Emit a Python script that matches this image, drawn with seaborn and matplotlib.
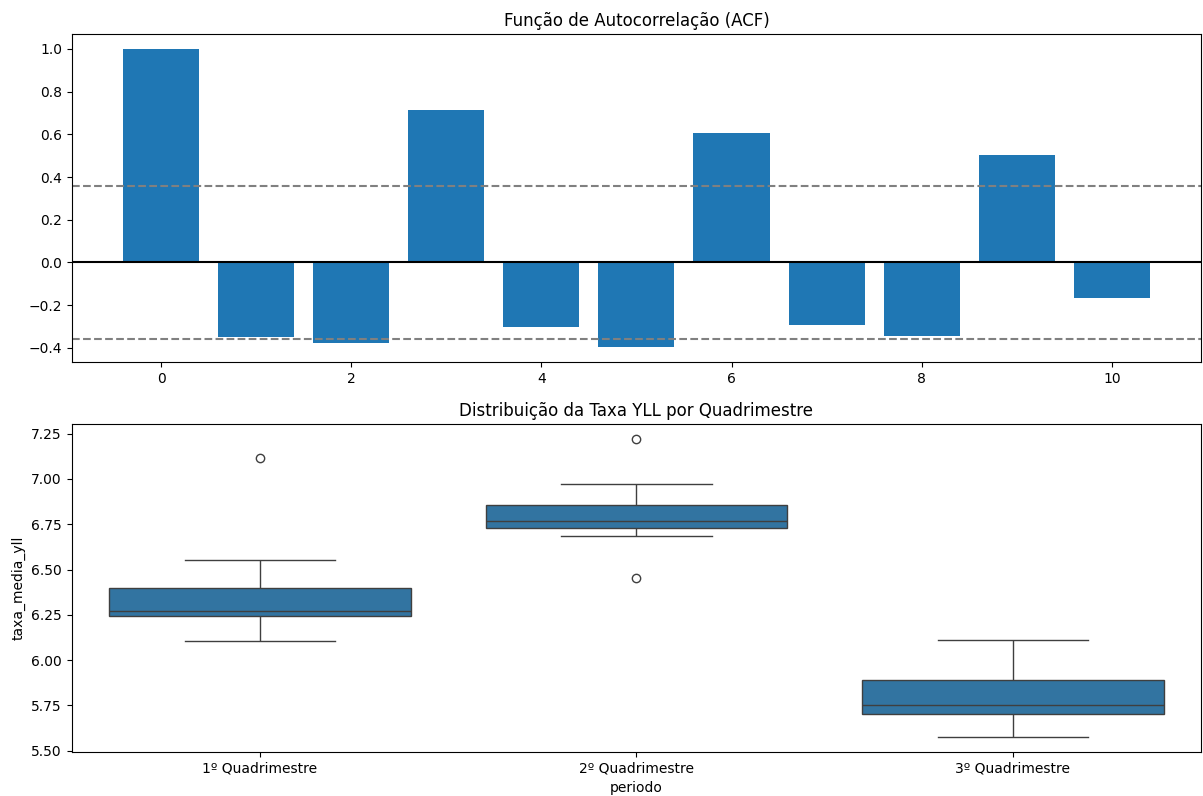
import numpy as np
import pandas as pd
import matplotlib
matplotlib.use("Agg")
import matplotlib.pyplot as plt
import seaborn as sns

# ACF data
lags = [0, 1, 2, 3, 4, 5, 6, 7, 8, 9, 10]
acf_values = [1.0, -0.349, -0.378, 0.713, -0.301, -0.396, 0.604, -0.291, -0.343, 0.502, -0.167]
conf_bound = 0.357

# Boxplot data (reconstructed to match quartiles/whiskers/outliers)
periodos = ["1º Quadrimestre", "2º Quadrimestre", "3º Quadrimestre"]
q1_vals = [6.106, 6.18, 6.235, 6.26, 6.265, 6.28, 6.33, 6.42, 6.55, 7.117]
q2_vals = [6.452, 6.686, 6.72, 6.756, 6.76, 6.77, 6.83, 6.866, 6.972, 7.221]
q3_vals = [5.575, 5.64, 5.70, 5.716, 5.74, 5.76, 5.85, 5.903, 6.0, 6.111]

df_acf = pd.DataFrame({"lag": lags, "acf": acf_values})
df_box = pd.DataFrame({
    "periodo": [periodos[0]] * len(q1_vals) + [periodos[1]] * len(q2_vals) + [periodos[2]] * len(q3_vals),
    "taxa_media_yll": q1_vals + q2_vals + q3_vals,
})

fig, (ax1, ax2) = plt.subplots(2, 1, figsize=(12.03, 7.96), dpi=100)
fig.subplots_adjust(left=0.0596, right=0.9985, top=0.9573, bottom=0.0553, hspace=0.189)

sns.barplot(data=df_acf, x="lag", y="acf", native_scale=True, color="#1f77b4",
            saturation=1, width=0.8, ax=ax1)
ax1.axhline(0, color="black", linewidth=1.5)
ax1.axhline(conf_bound, color="gray", linestyle="--", linewidth=1.5)
ax1.axhline(-conf_bound, color="gray", linestyle="--", linewidth=1.5)
ax1.set_title("Função de Autocorrelação (ACF)")
ax1.set_xlabel("")
ax1.set_ylabel("")
ax1.set_xticks([0, 2, 4, 6, 8, 10])
ax1.set_xlim(-0.94, 10.94)

sns.boxplot(data=df_box, x="periodo", y="taxa_media_yll", ax=ax2)
ax2.set_title("Distribuição da Taxa YLL por Quadrimestre")

fig.savefig("out.png", dpi=100)
